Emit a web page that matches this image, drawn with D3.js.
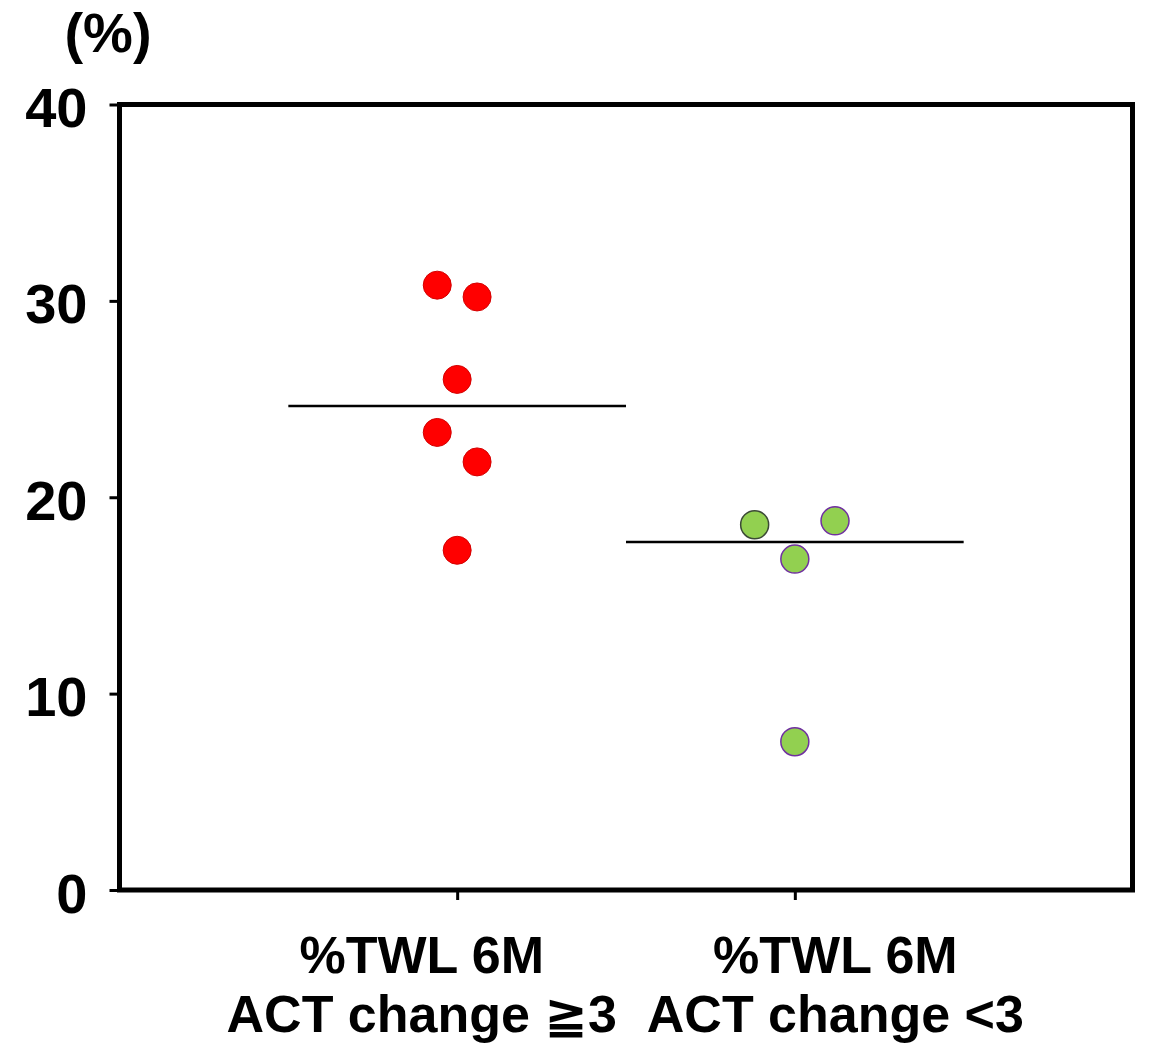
<!DOCTYPE html>
<html>
<head>
<meta charset="utf-8">
<script src="https://cdn.jsdelivr.net/npm/d3@7"></script>
<style>
  html, body { margin: 0; padding: 0; background: #fff; }
  svg text { font-family: "Liberation Sans", Arial, "DejaVu Sans", sans-serif; font-weight: bold; fill: #000; }
</style>
</head>
<body>
<svg id="chart" width="1150" height="1046"></svg>
<script>
// ---- data ----
const categories = ["%TWL 6M|ACT change ≧3", "%TWL 6M|ACT change <3"];
const groupA = [30.8, 30.2, 26.0, 23.3, 21.8, 17.3];   // ACT change ≧3
const groupB = [18.6, 18.8, 16.85, 7.55];              // ACT change <3
const jitterA = [-1, 1, 0, -1, 1, 0];
const jitterB = [-1, 1, 0, 0];
const yTicks = [0, 10, 20, 30, 40];
const yUnit = "(%)";

// ---- styles ----
const fillA = "#FF0000", strokeA = "#D40000";
const fillB = "#92D050";
const strokeB = ["#3C4A36", "#7030A0", "#7030A0", "#7030A0"];

(function () {
const svg = d3.select("#chart");
const pLeft = 119.5, pRight = 1132.5, pTop = 104.5, pBottom = 890;

const x = d3.scaleLinear().domain([0, 3]).range([pLeft, pRight]);
const y = d3.scaleLinear().domain([0, 40]).range([pBottom, pTop]);

// frame
svg.append("rect")
  .attr("x", pLeft).attr("y", pTop)
  .attr("width", pRight - pLeft).attr("height", pBottom - pTop)
  .attr("fill", "none").attr("stroke", "#000").attr("stroke-width", 5);

// y axis
const yAxis = d3.axisLeft(y).tickValues(yTicks).tickSize(10).tickPadding(22).tickFormat(d3.format("d"));
const gy = svg.append("g").attr("transform", `translate(${pLeft},0)`).call(yAxis);
gy.select(".domain").remove();
gy.selectAll(".tick line").attr("stroke", "#000").attr("stroke-width", 3);
gy.selectAll(".tick text")
  .attr("font-size", 56).attr("dy", null).attr("y", 22)
  .style("font-family", "'Liberation Sans', Arial, sans-serif").style("font-weight", "bold").attr("fill", "#000");

// x axis
const xAxis = d3.axisBottom(x).tickValues([1, 2]).tickSize(10).tickFormat("");
const gx = svg.append("g").attr("transform", `translate(0,${pBottom})`).call(xAxis);
gx.select(".domain").remove();
gx.selectAll(".tick line").attr("stroke", "#000").attr("stroke-width", 3);

// unit label
svg.append("text").attr("x", 108).attr("y", 52).attr("text-anchor", "middle")
  .attr("font-size", 56).text(yUnit);

// category labels
const labelShift = [-0.105, 0.12];
categories.forEach((c, i) => {
  const lines = c.split("|");
  const t = svg.append("text").attr("text-anchor", "middle").attr("font-size", 52);
  lines.forEach((ln, j) => {
    t.append("tspan").attr("x", x(i + 1 + labelShift[i])).attr("y", 973 + j * 59).text(ln);
  });
});

// median lines
const groups = [groupA, groupB];
groups.forEach((g, i) => {
  const m = d3.median(g);
  svg.append("line")
    .attr("x1", x(i + 0.5)).attr("x2", x(i + 1.5))
    .attr("y1", y(m)).attr("y2", y(m))
    .attr("stroke", "#000").attr("stroke-width", 2.5);
});

// points
const jitterStepA = 0.059, jitterStepB = 0.119;
svg.append("g").selectAll("circle").data(groupA).join("circle")
  .attr("cx", (d, i) => x(1 + jitterA[i] * jitterStepA))
  .attr("cy", d => y(d))
  .attr("r", 14)
  .attr("fill", fillA).attr("stroke", strokeA).attr("stroke-width", 1);

svg.append("g").selectAll("circle").data(groupB).join("circle")
  .attr("cx", (d, i) => x(2 + jitterB[i] * jitterStepB))
  .attr("cy", d => y(d))
  .attr("r", 14)
  .attr("fill", fillB).attr("stroke", (d, i) => strokeB[i]).attr("stroke-width", 1.5);
})();
</script>
</body>
</html>
